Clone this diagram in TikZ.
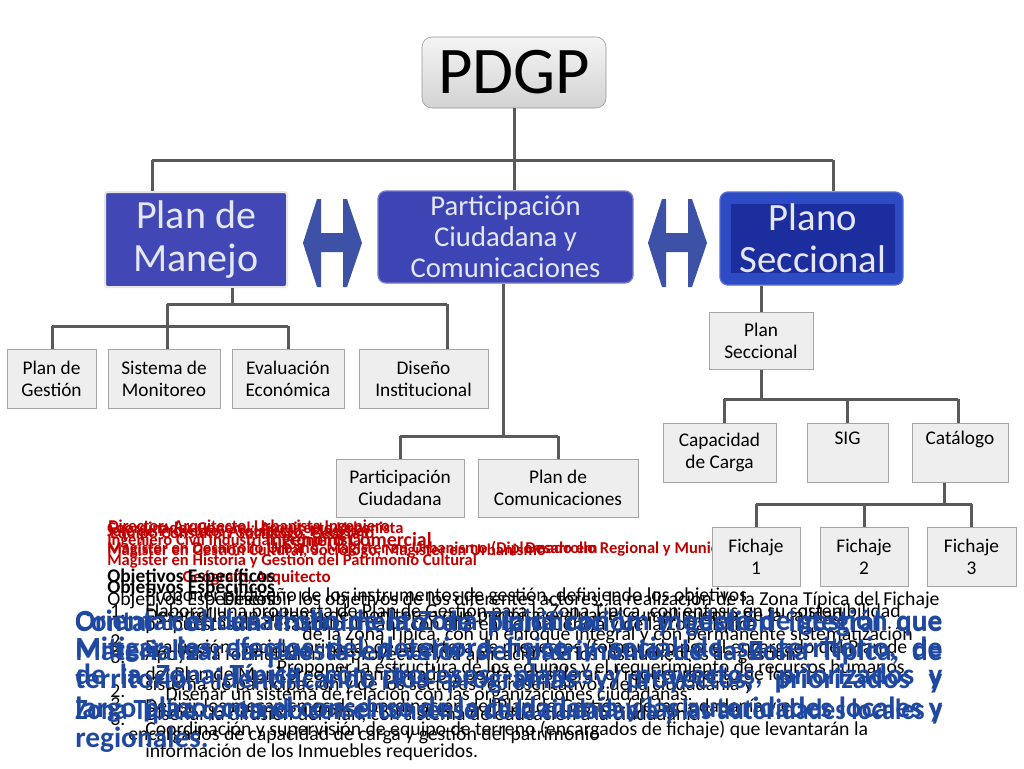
\documentclass[tikz,border=0pt]{standalone}
\usepackage{graphicx}
\usepackage{fontspec}
\setmainfont{Carlito}
\definecolor{boxfill}{HTML}{EEEEEE}
\definecolor{boxline}{HTML}{A5A5A5}
\definecolor{connc}{HTML}{5A5A5A}
\definecolor{pmblue}{HTML}{4148B5}
\definecolor{pcblue}{HTML}{3D44B3}
\definecolor{psouter}{HTML}{2D4BC4}
\definecolor{psinner}{HTML}{1C2D9E}
\definecolor{arrowc}{HTML}{3D52A6}
\definecolor{bluetxt}{HTML}{1F48A0}
\definecolor{redtxt}{HTML}{C00000}
\definecolor{lighttxt}{HTML}{E4E6F2}
\tikzset{
  gbox/.style={draw=boxline, fill=boxfill, line width=0.75pt, inner sep=0pt, align=center,
    font=\fontsize{14.5}{16.5}\selectfont, text=black},
  conn/.style={draw=connc, line width=2.25pt},
  dblarrow/.style={fill=arrowc, draw=none},
  redt/.style={anchor=base west, inner sep=0pt, text=redtxt, font=\bfseries\fontsize{12.4}{12.4}\selectfont},
  redbig/.style={anchor=base west, inner sep=0pt, text=redtxt, font=\bfseries\fontsize{15}{15}\selectfont},
  blkb/.style={anchor=base west, inner sep=0pt, text=black, font=\bfseries\fontsize{14.5}{14.5}\selectfont},
  blk/.style={anchor=base west, inner sep=0pt, text=black, font=\fontsize{14.8}{14.8}\selectfont},
  blkE/.style={anchor=base east, inner sep=0pt, text=black, font=\fontsize{14.8}{14.8}\selectfont},
  blu/.style={anchor=base west, inner sep=0pt, text=bluetxt, font=\bfseries\fontsize{22}{22}\selectfont},
}
\newsavebox{\blbox}
\newcommand{\bline}[1]{\sbox{\blbox}{#1}\ifdim\wd\blbox>650.25pt\resizebox{650.25pt}{\height}{\usebox{\blbox}}\else\makebox[650.25pt][s]{#1}\fi}
\begin{document}
\begin{tikzpicture}[x=0.75pt,y=-0.75pt]
\useasboundingbox[fill=white] (0,0) rectangle (1024,768);

% ---------- bottom text block ----------
% red
\node[redt] (r1) at (107,533) {Coordinador General: Arquitecto Urbanista};
\node[redt] (r2) at (107,536) {Jefe de Proyecto: Arquitecto, Magíster};
\node[redt] (r3) at (110,538) {Equipo Consultor: Sociólogo, Geógrafo};
\node[redt] (r3b) at (108,531) {Director: Arquitecto, Urbanista Ingeniero};
\node[redt] (r4) at (107,545) {Ingeniero Civil Industrial, Economista};
\node[redbig, anchor=base east] (r5) at (432,546) {Ingeniero Comercial};
\node[redt] (r6) at (107,553) {Magíster en Desarrollo Urbano, Magíster en Urbanismo (Diplomado em};
\node[redt] (r6b) at (525,553) {Desarrollo Regional y Municipal};
\node[redt] (r7) at (107,555) {Magíster en Gestión Cultural, Sociólogo, Magíster en Urbanismo};
\node[redt] (r8) at (107,565) {Magíster en Historia y Gestión del Patrimonio Cultural};
\node[redt, font=\bfseries\fontsize{12.8}{12.8}\selectfont, anchor=base east] (r9) at (331,582) {Geógrafo, Arquitecto};

% black
\node[blkb] (o1) at (107,582) {Objetivos Específicos};
\node[blkb] (o2) at (107,593) {Objetivos Específicos};
\node[blk] (o3) at (107,605) {Objetivos Específicos};
\node[blkE] (k1) at (940,605) {Describir los objetivos de los diferentes actores, la realización de la Zona Típica del Fichaje};
\node[blk] (k1b) at (145,601) {Proponer el diseño de los instrumentos de gestión, definiendo los objetivos};
\node[blk] (n1) at (110,617) {1.};
\node[blk] (k2) at (145,617) {Elaborar una propuesta de Plan de Gestión para la Zona Típica, con énfasis en su sostenibilidad};
\node[blk] (k2b) at (145,621) {Desarrollar un sistema de monitoreo que permita evaluar el cumplimiento de la calidad};
\node[blkE] (k3) at (913,640) {de la Zona Típica, con un enfoque integral y con permanente sistematización};
\node[blk] (k3b) at (145,630) {propuestas de desarrollo urbano con el área de influencia y de la Zona Típica};
\node[blk] (n2) at (110,647) {2.};
\node[blk] (n3) at (110,655) {2.};
\node[blk] (k4) at (145,653) {Evaluación (social y privada) de la cartera de proyectos (formulado por el encargado del Plan de};
\node[blk] (k4b) at (145,660) {Apoyar la formulación de proyectos y la aplicación de los instrumentos de gestión};
\node[blk] (n4) at (110,663) {3.};
\node[blkE] (k5) at (910,673) {Proponer la estructura de los equipos y el requerimiento de recursos humanos.};
\node[blk] (k6) at (145,680) {del Plan de Monitoreo, dimensionado y podrá considerar el requerimiento de los};
\node[blk] (k6b) at (145,690) {sistema de participación y de los sectores representativos de la ciudadanía y};
\node[blk] (n5) at (110,697) {2.};
\node[blkE] (k7) at (693,700) {Diseñar un sistema de relación con las organizaciones ciudadanas.};
\node[blk] (n6) at (110,710) {3.};
\node[blk] (k8) at (145,712) {Definir los mecanismos de coordinación del Plan de Gestión (de la ciudadanía y el};
\node[blk] (k8b) at (145,720) {Diseñar la difusión del Plan, con sistema de educación a la ciudadanía};
\node[blk] (n7) at (110,725) {3.};
\node[blk] (k9) at (145,735) {Coordinación y supervisión de equipo de terreno (encargados de fichaje) que levantarán la};
\node[blkE] (k9b) at (600,740) {encargados de capacidad de carga y gestión del patrimonio};
\node[blk] (k10) at (145,757) {información de los Inmuebles requeridos.};

% blue
\node[blu] (b1) at (75,631) {\bline{Contar con un instrumento de planificación y gestión integral que}};
\node[blu] (b1b) at (75,630) {\bline{Orientar el desarrollo de la Zona Típica con un modelo de gestión que}};
\node[blu] (b2) at (75,660) {\bline{Materializar la puesta en valor del patrimonio de la Zona Típica, de}};
\node[blu] (b2b) at (75,657) {\bline{Mitigar los efectos del deterioro físico y social de su territorio, de}};
\node[blu] (b3) at (75,688) {\bline{territorio, identificando los programas y proyectos, priorizados y}};
\node[blu] (b3b) at (75,684) {\bline{de la Zona Típica, con procesos, planes y proyectos, priorizados y}};
\node[blu] (b4) at (75,717) {\bline{largo plazo, con el consenso de la ciudadanía y las autoridades locales y}};
\node[blu] (b4b) at (75,719) {\bline{Zona Típica contando con el consenso de la ciudadanía y las autoridades locales y}};
\node[blu] (b5) at (75,747) {regionales.};

% ---------- top level ----------
\node[draw=boxline!90!black, rounded corners=7.5pt, top color=white!92!gray, bottom color=gray!35,
      minimum width=138pt, minimum height=53.25pt, inner sep=0pt,
      font=\fontsize{50}{50}\selectfont] (pdgp) at (514,72.5) {PDGP};

\node[draw=white!80!gray, line width=1.5pt, fill=pmblue, rounded corners=2pt,
      minimum width=136.5pt, minimum height=71.25pt, inner sep=0pt, align=center,
      text=lighttxt, font=\fontsize{30}{32}\selectfont] (pm) at (196,239.5) {Plan de\\Manejo};

\node[draw=pcblue!70!white, line width=1pt, fill=pcblue, rounded corners=6pt,
      minimum width=191.25pt, minimum height=69pt, inner sep=0pt, align=center,
      text=lighttxt, font=\fontsize{21.5}{23.2}\selectfont] (pc) at (505.5,237) {Participación\\Ciudadana y\\Comunicaciones};

\node[draw=psouter!80!white, line width=1pt, fill=psouter, rounded corners=6pt,
      minimum width=137.25pt, minimum height=69.75pt, inner sep=0pt] (ps) at (811.5,238.5) {};
\node[fill=psinner, minimum width=123pt, minimum height=50.25pt, inner sep=0pt, align=center,
      text=lighttxt, font=\fontsize{29}{31.5}\selectfont] (psi) at (813,238.5) {Plano\\Seccional};

% double arrows
\coordinate (da1) at (303,243);
\coordinate (da2) at (648,243);
\foreach \c in {da1,da2}{
  \fill[dblarrow] (\c) -- ++(14,-44) -- ++(4,0) -- ++(0,34) -- ++(22,0) -- ++(0,-34) -- ++(4,0)
     -- ++(15,44) -- ++(-15,44) -- ++(-4,0) -- ++(0,-35) -- ++(-22,0) -- ++(0,35) -- ++(-4,0) -- cycle;
}

% ---------- second level boxes ----------
\node[gbox, minimum width=66.75pt, minimum height=44.25pt] (ges) at (51.5,378.5) {Plan de\\Gestión};
\node[gbox, minimum width=84pt, minimum height=44.25pt] (sis) at (164,378.5) {Sistema de\\Monitoreo};
\node[gbox, minimum width=84pt, minimum height=44.25pt] (eva) at (288,378.5) {Evaluación\\Económica};
\node[gbox, minimum width=96.75pt, minimum height=44.25pt] (dis) at (423.5,378.5) {Diseño\\Institucional};
\node[gbox, minimum width=96pt, minimum height=43.5pt] (pciu) at (400,488) {Participación\\Ciudadana};
\node[gbox, minimum width=120pt, minimum height=43.5pt] (pcom) at (558,488) {Plan de\\Comunicaciones};
\node[gbox, minimum width=78pt, minimum height=42.75pt] (psec) at (761,340.5) {Plan\\Seccional};
\node[gbox, minimum width=84.75pt, minimum height=44.25pt] (cap) at (719.5,452.5) {Capacidad\\de Carga};
\node[gbox, minimum width=60.75pt, minimum height=44.25pt] (sig) at (847.5,452.5) {SIG\\\strut};
\node[gbox, minimum width=72pt, minimum height=44.25pt] (cat) at (960,452.5) {Catálogo\\\strut};
\node[gbox, minimum width=66pt, minimum height=44.25pt] (f1) at (756,556.5) {Fichaje\\1};
\node[gbox, minimum width=66pt, minimum height=44.25pt] (f2) at (864,556.5) {Fichaje\\2};
\node[gbox, minimum width=66.75pt, minimum height=44.25pt] (f3) at (971.5,556.5) {Fichaje\\3};

% ---------- connectors ----------
\coordinate (h1) at (152,160);
\coordinate (h2) at (833,160);
\draw[conn] (pdgp.south) -- (pdgp.south |- h1);
\draw[conn] (h1) -- (h2);
\draw[conn] (h1) -- (h1 |- pm.north);
\draw[conn] (pdgp.south |- h1) -- (pdgp.south |- pc.north);
\draw[conn] (h2) -- (h2 |- ps.north);

\coordinate (m1) at (232,304);
\coordinate (m2) at (167,304);
\coordinate (m3) at (447,304);
\coordinate (m4) at (52,326);
\coordinate (m5) at (288,326);
\draw[conn] (m1 |- pm.south) -- (m1);
\draw[conn] (m2) -- (m3);
\draw[conn] (m3) -- (m3 |- dis.north);
\draw[conn] (m2) -- (m2 |- sis.north);
\draw[conn] (m4) -- (m5);
\draw[conn] (m4) -- (m4 |- ges.north);
\draw[conn] (m5) -- (m5 |- eva.north);

\coordinate (c1) at (503,436);
\draw[conn] (c1 |- pc.south) -- (c1);
\draw[conn] (pciu.north |- c1) -- (pcom.north |- c1);
\draw[conn] (pciu.north |- c1) -- (pciu.north);
\draw[conn] (pcom.north |- c1) -- (pcom.north);

\coordinate (s1) at (761,399);
\coordinate (s2) at (724,399);
\coordinate (s3) at (958,399);
\draw[conn] (psec.north |- ps.south) -- (psec.north);
\draw[conn] (psec.south) -- (s1);
\draw[conn] (s2) -- (s3);
\draw[conn] (s2) -- (s2 |- cap.north);
\draw[conn] (sig.north |- s1) -- (sig.north);
\draw[conn] (s3) -- (s3 |- cat.north);

\coordinate (t1) at (944,504);
\draw[conn] (t1 |- cat.south) -- (t1);
\draw[conn] (f1.north |- t1) -- (f3.north |- t1);
\draw[conn] (f1.north |- t1) -- (f1.north);
\draw[conn] (f2.north |- t1) -- (f2.north);
\draw[conn] (f3.north |- t1) -- (f3.north);
\end{tikzpicture}
\end{document}
